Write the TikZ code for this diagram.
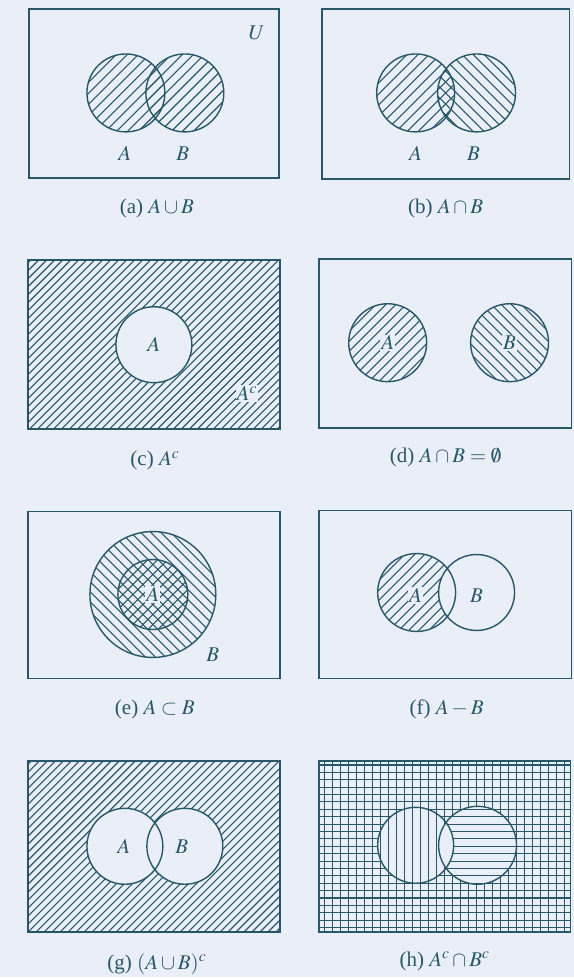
\documentclass[tikz,border=0pt]{standalone}
\usepackage{mathptmx}
\usepackage{fontspec}
\setmainfont{Liberation Serif}
\definecolor{paper}{RGB}{234,238,246}
\definecolor{ink}{RGB}{40,88,104}

% hatching: centre x, centre y, number of lines each side, spacing
\newcommand{\hatchne}[4]{\foreach \k in {-#3,...,#3} \draw[hatch] ({#1+\k*#4-#3*#4},{#2+#3*#4}) -- ++({#3*#4*2},{-#3*#4*2});}
\newcommand{\hatchnw}[4]{\foreach \k in {-#3,...,#3} \draw[hatch] ({#1+\k*#4-#3*#4},{#2-#3*#4}) -- ++({#3*#4*2},{#3*#4*2});}
\newcommand{\hatchv}[3]{\foreach \k in {-#3,...,#3} \draw[hatch] ({#1+\k*8},{#2-100}) -- ++(0,200);}
\newcommand{\hatchh}[3]{\foreach \k in {-#3,...,#3} \draw[hatch] ({#1-140},{#2+\k*7.4}) -- ++(280,0);}

\begin{document}
\begin{tikzpicture}[x=1pt, y=-1pt,
    frame/.style={draw=ink, line width=1.8pt},
    set/.style={draw=ink, line width=1.4pt},
    hatch/.style={draw=ink, line width=1.1pt},
    lbl/.style={text=ink, font=\fontsize{21}{24}\selectfont, inner sep=1pt},
    caption/.style={text=ink, font=\fontsize{21}{24}\selectfont}
  ]
    \fill[paper] (0,0) rectangle (574,978);

    % (a) union
    \begin{scope} \clip (126,93) circle (39); \hatchne{155}{93}{10}{11} \end{scope}
    \begin{scope} \clip (185,93) circle (39); \hatchne{155}{93}{10}{11} \end{scope}
    \draw[set] (126,93) circle (39) (185,93) circle (39);
    \draw[frame] (29,9) rectangle (279,178);
    \node[lbl] (aA) at (125,154) {$A$};
    \node[lbl] (aB) at (183,154) {$B$};
    \node[lbl] (aU) at (257,33) {$U$};
    \node[caption] (capa) at (157,209) {(a) $A\cup B$};

    % (b) intersection
    \begin{scope} \clip (416,93) circle (39); \hatchne{446}{93}{10}{11} \end{scope}
    \begin{scope} \clip (477,93) circle (39); \hatchnw{446}{93}{10}{11} \end{scope}
    \draw[set] (416,93) circle (39) (477,93) circle (39);
    \draw[frame] (322,9) rectangle (570,179);
    \node[lbl] (bA) at (416,154) {$A$};
    \node[lbl] (bB) at (474,154) {$B$};
    \node[caption] (capb) at (446,209) {(b) $A\cap B$};

    % (c) complement
    \begin{scope} \clip (28,260) rectangle (280,429); \hatchne{154}{345}{28}{8} \end{scope}
    \fill[paper] (154,345) circle (38);
    \draw[set] (154,345) circle (38);
    \draw[frame] (28,260) rectangle (280,429);
    \node[lbl] (cA) at (154,345) {$A$};
    \node[lbl, fill=paper] (cAc) at (247,394) {$A^c$};
    \node[caption] (capc) at (155,461) {(c) $A^c$};

    % (d) disjoint
    \begin{scope} \clip (388,343) circle (39); \hatchne{388}{343}{6}{10} \end{scope}
    \begin{scope} \clip (510,343) circle (39); \hatchnw{510}{343}{6}{10} \end{scope}
    \draw[set] (388,343) circle (39) (510,343) circle (39);
    \draw[frame] (319,259) rectangle (572,428);
    \node[lbl, fill=paper] (dA) at (388,343) {$A$};
    \node[lbl, fill=paper] (dB) at (510,343) {$B$};
    \node[caption] (capd) at (446,458) {(d) $A\cap B=\emptyset$};

    % (e) subset
    \begin{scope} \clip (153,595) circle (63); \hatchnw{153}{595}{10}{10} \end{scope}
    \begin{scope} \clip (153,595) circle (35); \hatchne{153}{595}{6}{10} \end{scope}
    \draw[set] (153,595) circle (63) (153,595) circle (35);
    \draw[frame] (28,512) rectangle (280,679);
    \node[lbl, fill=paper] (eA) at (153,595) {$A$};
    \node[lbl] (eB) at (213,655) {$B$};
    \node[caption] (cape) at (155,710) {(e) $A\subset B$};

    % (f) difference
    \begin{scope} \clip (417,593) circle (39); \hatchne{417}{593}{6}{10}
      \fill[paper] (477,593) circle (38); \end{scope}
    \draw[set] (417,593) circle (39) (477,593) circle (38);
    \draw[frame] (319,511) rectangle (572,679);
    \node[lbl, fill=paper] (fA) at (416,596) {$A$};
    \node[lbl] (fB) at (477,596) {$B$};
    \node[caption] (capf) at (447,710) {(f) $A-B$};

    % (g) complement of union
    \begin{scope} \clip (28,762) rectangle (280,933); \hatchne{154}{847}{28}{8} \end{scope}
    \fill[paper] (125,847) circle (38) (185,847) circle (38);
    \draw[set] (125,847) circle (38) (185,847) circle (38);
    \draw[frame] (28,762) rectangle (280,933);
    \node[lbl] (gA) at (124,847) {$A$};
    \node[lbl] (gB) at (182,847) {$B$};
    \node[caption] (capg) at (157,965) {(g) $(A\cup B)^c$};

    % (h) intersection of complements
    \begin{scope} \clip (319,762) rectangle (571,933); \hatchv{445}{847}{17} \hatchh{445}{847}{12} \end{scope}
    \fill[paper] (416,846) circle (38) (478,846) circle (39);
    \begin{scope} \clip (416,846) circle (38); \hatchv{445}{847}{17}
      \fill[paper] (478,846) circle (39); \end{scope}
    \begin{scope} \clip (478,846) circle (39); \hatchh{445}{847}{12}
      \fill[paper] (416,846) circle (38); \end{scope}
    \draw[set] (416,846) circle (38) (478,846) circle (39);
    \draw[frame] (319,762) rectangle (571,933);
    \node[caption] (caph) at (445,962) {(h) $A^c\cap B^c$};
\end{tikzpicture}
\end{document}
